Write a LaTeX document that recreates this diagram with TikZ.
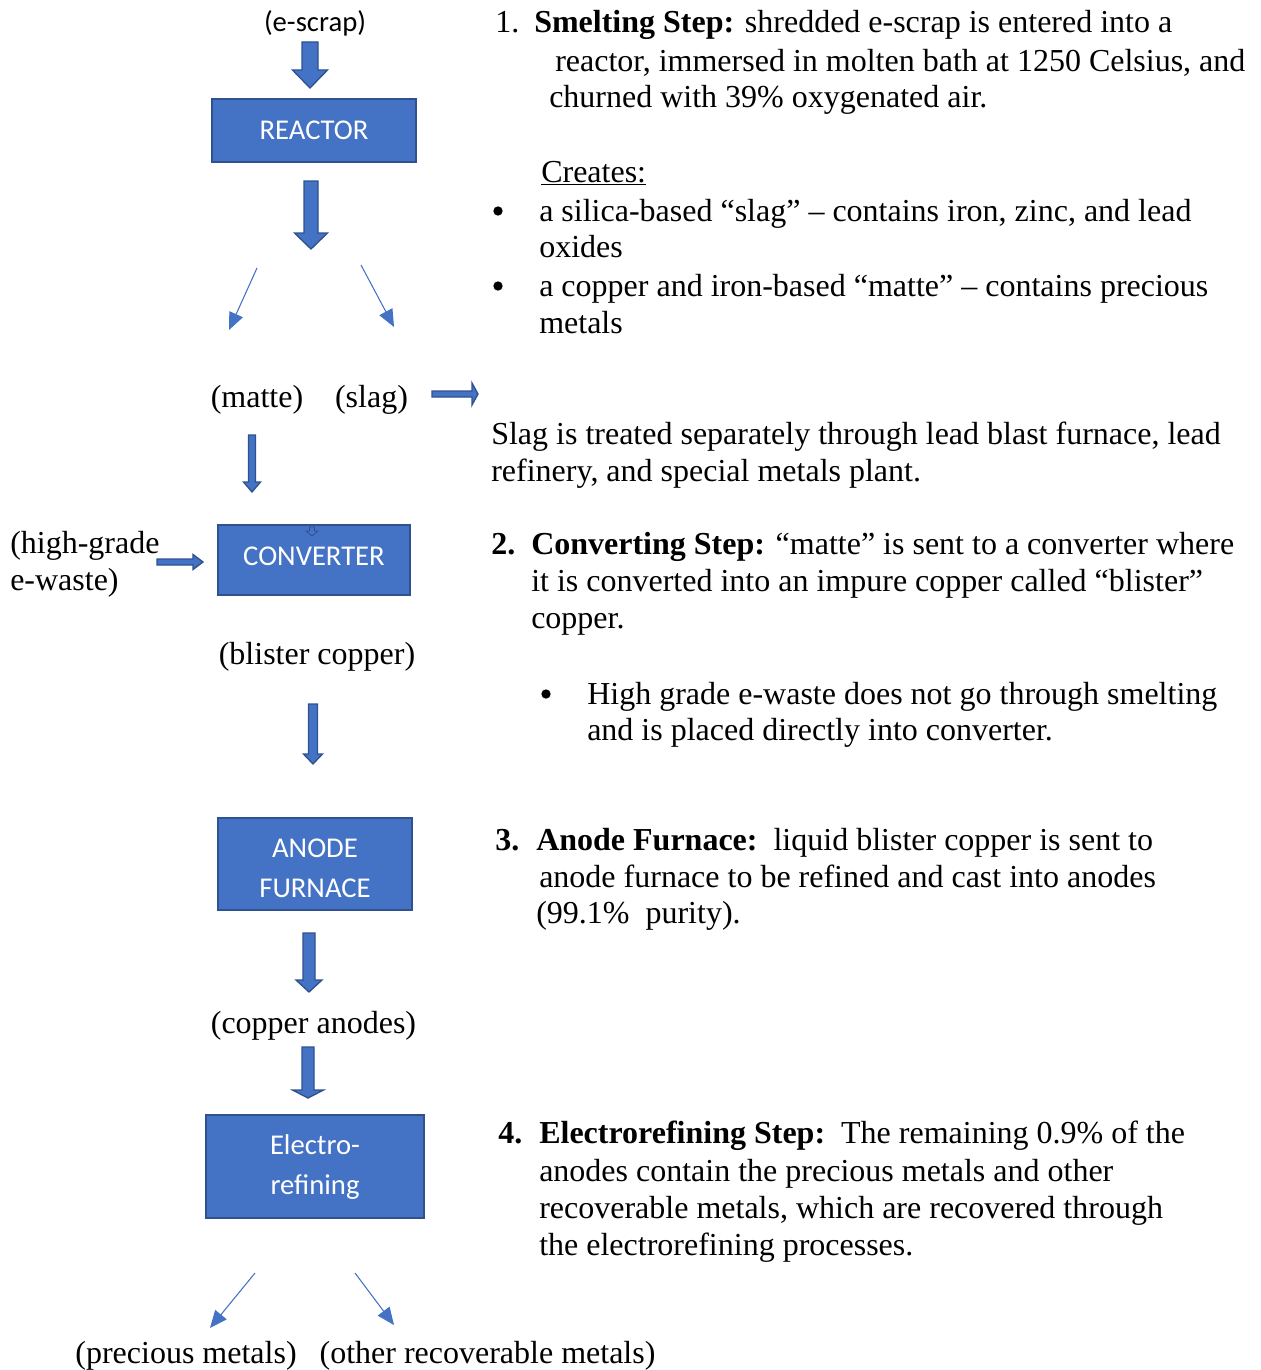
\documentclass[tikz,border=0pt]{standalone}
\usepackage{fontspec}
\setmainfont{Liberation Serif}
\newfontfamily\boxfont{Carlito}
\usetikzlibrary{arrows.meta}
\definecolor{obl}{HTML}{4472C4}
\definecolor{obd}{HTML}{2F528F}
% block arrow pointing down: x, ytop, yhead, ytip, shaft half, head half
\newcommand\bkdown[6]{%
  \filldraw[blockarrow] (#1-#5,#2) -- (#1+#5,#2) -- (#1+#5,#3) -- (#1+#6,#3) -- (#1,#4) -- (#1-#6,#3) -- (#1-#5,#3) -- cycle;}
% block arrow pointing right: y, xleft, xhead, xtip, shaft half, head half
\newcommand\bkright[6]{%
  \filldraw[blockarrow] (#2,#1-#5) -- (#2,#1+#5) -- (#3,#1+#5) -- (#3,#1+#6) -- (#4,#1) -- (#3,#1-#6) -- (#3,#1-#5) -- cycle;}
\tikzset{
  blockarrow/.style={fill=obl, draw=obd, line width=1pt, line join=miter},
  box/.style={draw=obd, fill=obl, line width=1.5pt, text=white,
    font=\boxfont\fontsize{21.5}{30}\selectfont, align=center, inner sep=0pt},
  boxtext/.style={text=white, font=\boxfont\fontsize{21.5}{30}\selectfont, align=center, inner sep=0pt},
  txt/.style={anchor=base west, inner sep=0pt, font=\fontsize{24}{28}\selectfont},
  lbl/.style={anchor=base, inner sep=0pt, font=\fontsize{24}{28}\selectfont},
  sanslbl/.style={inner sep=0pt, font=\boxfont\fontsize{21.5}{26}\selectfont},
  bul/.style={circle, fill=black, inner sep=0pt, minimum size=7pt},
  tarrow/.style={draw=obl, line width=0.8pt, -{Triangle[length=13pt,width=11pt]}}
}
\begin{document}
\begin{tikzpicture}[x=0.75pt,y=-0.75pt]
\useasboundingbox (0,0) rectangle (1260,1370);

% ---------- left flow ----------
\node[sanslbl] (escrap) at (315,23) {(e-scrap)};
\bkdown{310}{42}{70}{88}{8}{17.5}
\node[box, minimum width=0.75*204pt, minimum height=0.75*63pt] (reactor) at (314,130.5) {REACTOR};
\bkdown{311}{181}{233}{249}{7}{16.5}

\coordinate (sa1) at (257,268);
\coordinate (sa2) at (229,330);
\coordinate (sb1) at (361,265);
\coordinate (sb2) at (394,327);
\draw[tarrow] (sa1) -- (sa2);
\draw[tarrow] (sb1) -- (sb2);

\node[lbl] (matte) at (257,407) {(matte)};
\node[lbl] (slag) at (371.5,407) {(slag)};
\bkright{394}{432}{472}{478}{3}{11}
\bkdown{252}{435}{482}{492}{3.5}{8.5}

\node[txt] (hg1) at (10,553) {(high-grade};
\node[txt] (hg2) at (10,590) {e-waste)};
\bkright{562}{157}{193}{203}{3}{7.5}
\node[box, minimum width=0.75*192pt, minimum height=0.75*70pt] (converter) at (314,560) {};
\node[boxtext] (convtxt) at (314,556) {CONVERTER};
\filldraw[fill=obl, draw=obd, line width=0.6pt] (309.5,527) -- (314.5,527) -- (314.5,531) -- (318,531) -- (312,536) -- (306,531) -- (309.5,531) -- cycle;

\node[lbl] (blister) at (317,664) {(blister copper)};
\bkdown{313}{704}{754}{764}{4.5}{9.5}

\node[box, minimum width=0.75*194pt, minimum height=0.75*92pt] (anode) at (315,864) {};
\node[boxtext] (anodetxt) at (315,868) {ANODE\\FURNACE};
\bkdown{309}{933}{980}{992}{6}{13}
\node[lbl] (anodes) at (313.5,1033) {(copper anodes)};
\bkdown{308}{1047}{1090}{1098}{6}{15.5}
\node[box, minimum width=0.75*218pt, minimum height=0.75*103pt] (electro) at (315,1166.5) {};
\node[boxtext] (electrotxt) at (315,1167) {Electro-\\refining};

\coordinate (ea1) at (255,1273);
\coordinate (ea2) at (210,1328);
\coordinate (eb1) at (355,1273);
\coordinate (eb2) at (394,1325);
\draw[tarrow] (ea1) -- (ea2);
\draw[tarrow] (eb1) -- (eb2);
\node[lbl] (prec) at (186,1363) {(precious metals)};
\node[lbl] (other) at (487.5,1363) {(other recoverable metals)};

% ---------- right text ----------
\node[txt] (n1) at (495,33) {1.};
\node[txt] (l1a) at (534,33) {\textbf{Smelting Step:} shredded e-scrap is entered into a};
\node[txt] (l1b) at (555,71) {reactor, immersed in molten bath at 1250 Celsius, and};
\node[txt] (l1c) at (549,108) {churned with 39\% oxygenated air.};
\node[txt] (cr) at (541,182) {\underline{Creates:}};
\node[bul] (b1) at (498,211) {};
\node[txt] (l1d) at (539,221) {a silica-based “slag” – contains iron, zinc, and lead};
\node[txt] (l1e) at (539,257) {oxides};
\node[bul] (b2) at (498,286) {};
\node[txt] (l1f) at (539,296) {a copper and iron-based “matte” – contains precious};
\node[txt] (l1g) at (539,333) {metals};

\node[txt] (s1) at (491,444) {Slag is treated separately through lead blast furnace, lead};
\node[txt] (s2) at (491,481) {refinery, and special metals plant.};

\node[txt] (n2) at (491,554) {\textbf{2.}};
\node[txt] (l2a) at (531,554) {\textbf{Converting Step:} “matte” is sent to a converter where};
\node[txt] (l2b) at (531,591) {it is converted into an impure copper called “blister”};
\node[txt] (l2c) at (531,628) {copper.};
\node[bul] (b3) at (546,694) {};
\node[txt] (l2d) at (587,704) {High grade e-waste does not go through smelting};
\node[txt] (l2e) at (587,740) {and is placed directly into converter.};

\node[txt] (n3) at (495,850) {\textbf{3.}};
\node[txt] (l3a) at (536,850) {\textbf{Anode Furnace:}\ \ liquid blister copper is sent to};
\node[txt] (l3b) at (539,887) {anode furnace to be refined and cast into anodes};
\node[txt] (l3c) at (536,923) {(99.1\%\ \ purity).};

\node[txt] (n4) at (498,1143) {\textbf{4.}};
\node[txt] (l4a) at (539,1143) {\textbf{Electrorefining Step:}\ \ The remaining 0.9\% of the};
\node[txt] (l4b) at (539,1181) {anodes contain the precious metals and other};
\node[txt] (l4c) at (539,1218) {recoverable metals, which are recovered through};
\node[txt] (l4d) at (539,1255) {the electrorefining processes.};
\end{tikzpicture}
\end{document}
